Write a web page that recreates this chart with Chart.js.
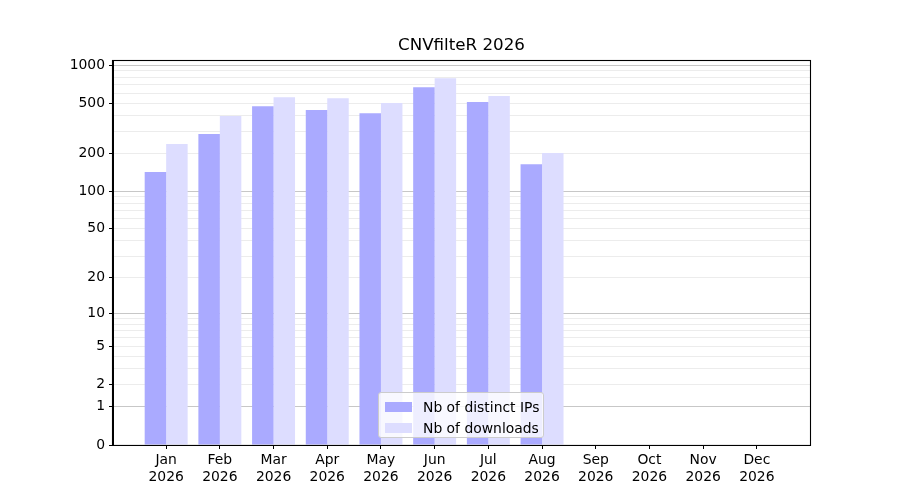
<!DOCTYPE html>
<html>
<head>
<meta charset="utf-8">
<script src="https://cdn.jsdelivr.net/npm/chart.js@4"></script>
<style>
  body { margin: 0; background: #fff; }
  #wrap { position: relative; width: 900px; height: 500px; }
  #legend {
    position: absolute; left: 378px; top: 392px; width: 164px; height: 44px;
    border: 1px solid #cccccc; border-radius: 3px; background: rgba(255,255,255,0.8);
    font-family: "DejaVu Sans"; font-size: 13.9px; color: #000;
  }
  #legend .item { position: absolute; left: 0; height: 16px; line-height: 16px; white-space: nowrap; }
  #legend .swatch { position: absolute; left: 6px; top: 3px; width: 27px; height: 10px; }
  #legend .label { position: absolute; left: 44px; top: 0; }
</style>
</head>
<body>
<div id="wrap">
  <canvas id="chart"></canvas>
  <div id="legend"></div>
</div>
<script>
// Data
const months = ["Jan", "Feb", "Mar", "Apr", "May", "Jun", "Jul", "Aug", "Sep", "Oct", "Nov", "Dec"];
const year = "2026";
const distinctIPs = [142, 284, 473, 440, 416, 668, 509, 164, 0, 0, 0, 0];
const downloads = [237, 396, 557, 547, 500, 787, 568, 201, 0, 0, 0, 0];
const yLabelTicks = [0, 1, 2, 5, 10, 20, 50, 100, 200, 500, 1000];
const yMajorTicks = [1, 10, 100, 1000];

// all gridline positions: 0, 1..9, 10..90, 100..900, 1000
const yGridTicks = [0];
[1, 10, 100].forEach((d) => {
  for (let k = 1; k <= 9; k++) yGridTicks.push(k * d);
});
yGridTicks.push(1000);

// y axis with a log10(1 + v) transform
class Log1pScale extends Chart.LinearScale {
  buildTicks() {
    return yGridTicks.map((v) => ({ value: v }));
  }
  getPixelForValue(value) {
    const top = Math.log10(1 + this.max);
    return this.getPixelForDecimal(Math.log10(1 + Math.max(0, value)) / top);
  }
  getValueForPixel(pixel) {
    const top = Math.log10(1 + this.max);
    return Math.pow(10, this.getDecimalForPixel(pixel) * top) - 1;
  }
}
Log1pScale.id = "log1p";
Log1pScale.defaults = Chart.LinearScale.defaults;
Chart.register(Log1pScale);

Chart.defaults.font.family = "DejaVu Sans";
Chart.defaults.font.size = 13.9;
Chart.defaults.color = "#000";

// black frame round the plot area
const frame = {
  id: "frame",
  afterDraw(chart) {
    const a = chart.chartArea;
    const c = chart.ctx;
    c.save();
    c.strokeStyle = "#000";
    c.lineWidth = 1.1;
    c.strokeRect(Math.round(a.left) - 0.5, Math.round(a.top) + 0.5, a.right - a.left + 1, a.bottom - a.top);
    c.restore();
  },
};

const toPoints = (arr) => arr.map((v, i) => ({ x: i, y: v }));

const chart = new Chart(document.getElementById("chart"), {
  type: "bar",
  data: {
    datasets: [
      { label: "Nb of distinct IPs", data: toPoints(distinctIPs), backgroundColor: "#aaaaff" },
      { label: "Nb of downloads", data: toPoints(downloads), backgroundColor: "#ddddff" },
    ],
  },
  options: {
    responsive: true,
    maintainAspectRatio: false,
    animation: false,
    layout: { padding: { left: 0, right: 90, top: 0, bottom: 0 } },
    datasets: { bar: { barPercentage: 1, categoryPercentage: 0.8, borderWidth: 0 } },
    plugins: {
      legend: { display: false },
      tooltip: { enabled: false },
      title: {
        display: true,
        text: "CNVfilteR 2026",
        fullSize: false,
        font: { size: 16.7, weight: "normal", lineHeight: 1.2 },
        color: "#000",
        padding: { top: 36, bottom: 4 },
      },
    },
    scales: {
      x: {
        type: "linear",
        offset: false,
        min: -0.99,
        max: 11.99,
        afterBuildTicks: (s) => {
          s.ticks = months.map((m, i) => ({ value: i }));
        },
        afterFit: (s) => {
          s.height = 55;
        },
        ticks: {
          autoSkip: false,
          maxRotation: 0,
          padding: 3,
          callback: (v) => [months[v], year],
        },
        grid: { offset: false, drawOnChartArea: false, tickLength: 4, tickColor: "#000" },
        border: { color: "#000", width: 1 },
      },
      y: {
        type: "log1p",
        min: 0,
        max: 1095,
        z: 1,
        afterFit: (s) => {
          s.width = 113;
        },
        ticks: {
          autoSkip: false,
          padding: 4,
          callback: (v) => (yLabelTicks.includes(v) ? String(v) : ""),
        },
        grid: {
          tickLength: 4,
          color: (ctx) => {
            const v = ctx.tick ? ctx.tick.value : 0;
            if (v === 0) return "rgba(0,0,0,0)";
            return yMajorTicks.includes(v) ? "rgba(0,0,0,0.22)" : "rgba(0,0,0,0.075)";
          },
          tickColor: (ctx) => {
            const v = ctx.tick ? ctx.tick.value : 0;
            return yLabelTicks.includes(v) ? "#000" : "rgba(0,0,0,0)";
          },
        },
        border: { color: "#000", width: 1 },
      },
    },
  },
  plugins: [frame],
});

// legend drawn as html, from the datasets
const legend = document.getElementById("legend");
chart.data.datasets.forEach((ds, i) => {
  const item = document.createElement("div");
  item.className = "item";
  item.style.top = 6 + i * 21 + "px";
  item.innerHTML = `<span class="swatch" style="background:${ds.backgroundColor}"></span><span class="label">${ds.label}</span>`;
  legend.appendChild(item);
});
</script>
</body>
</html>
